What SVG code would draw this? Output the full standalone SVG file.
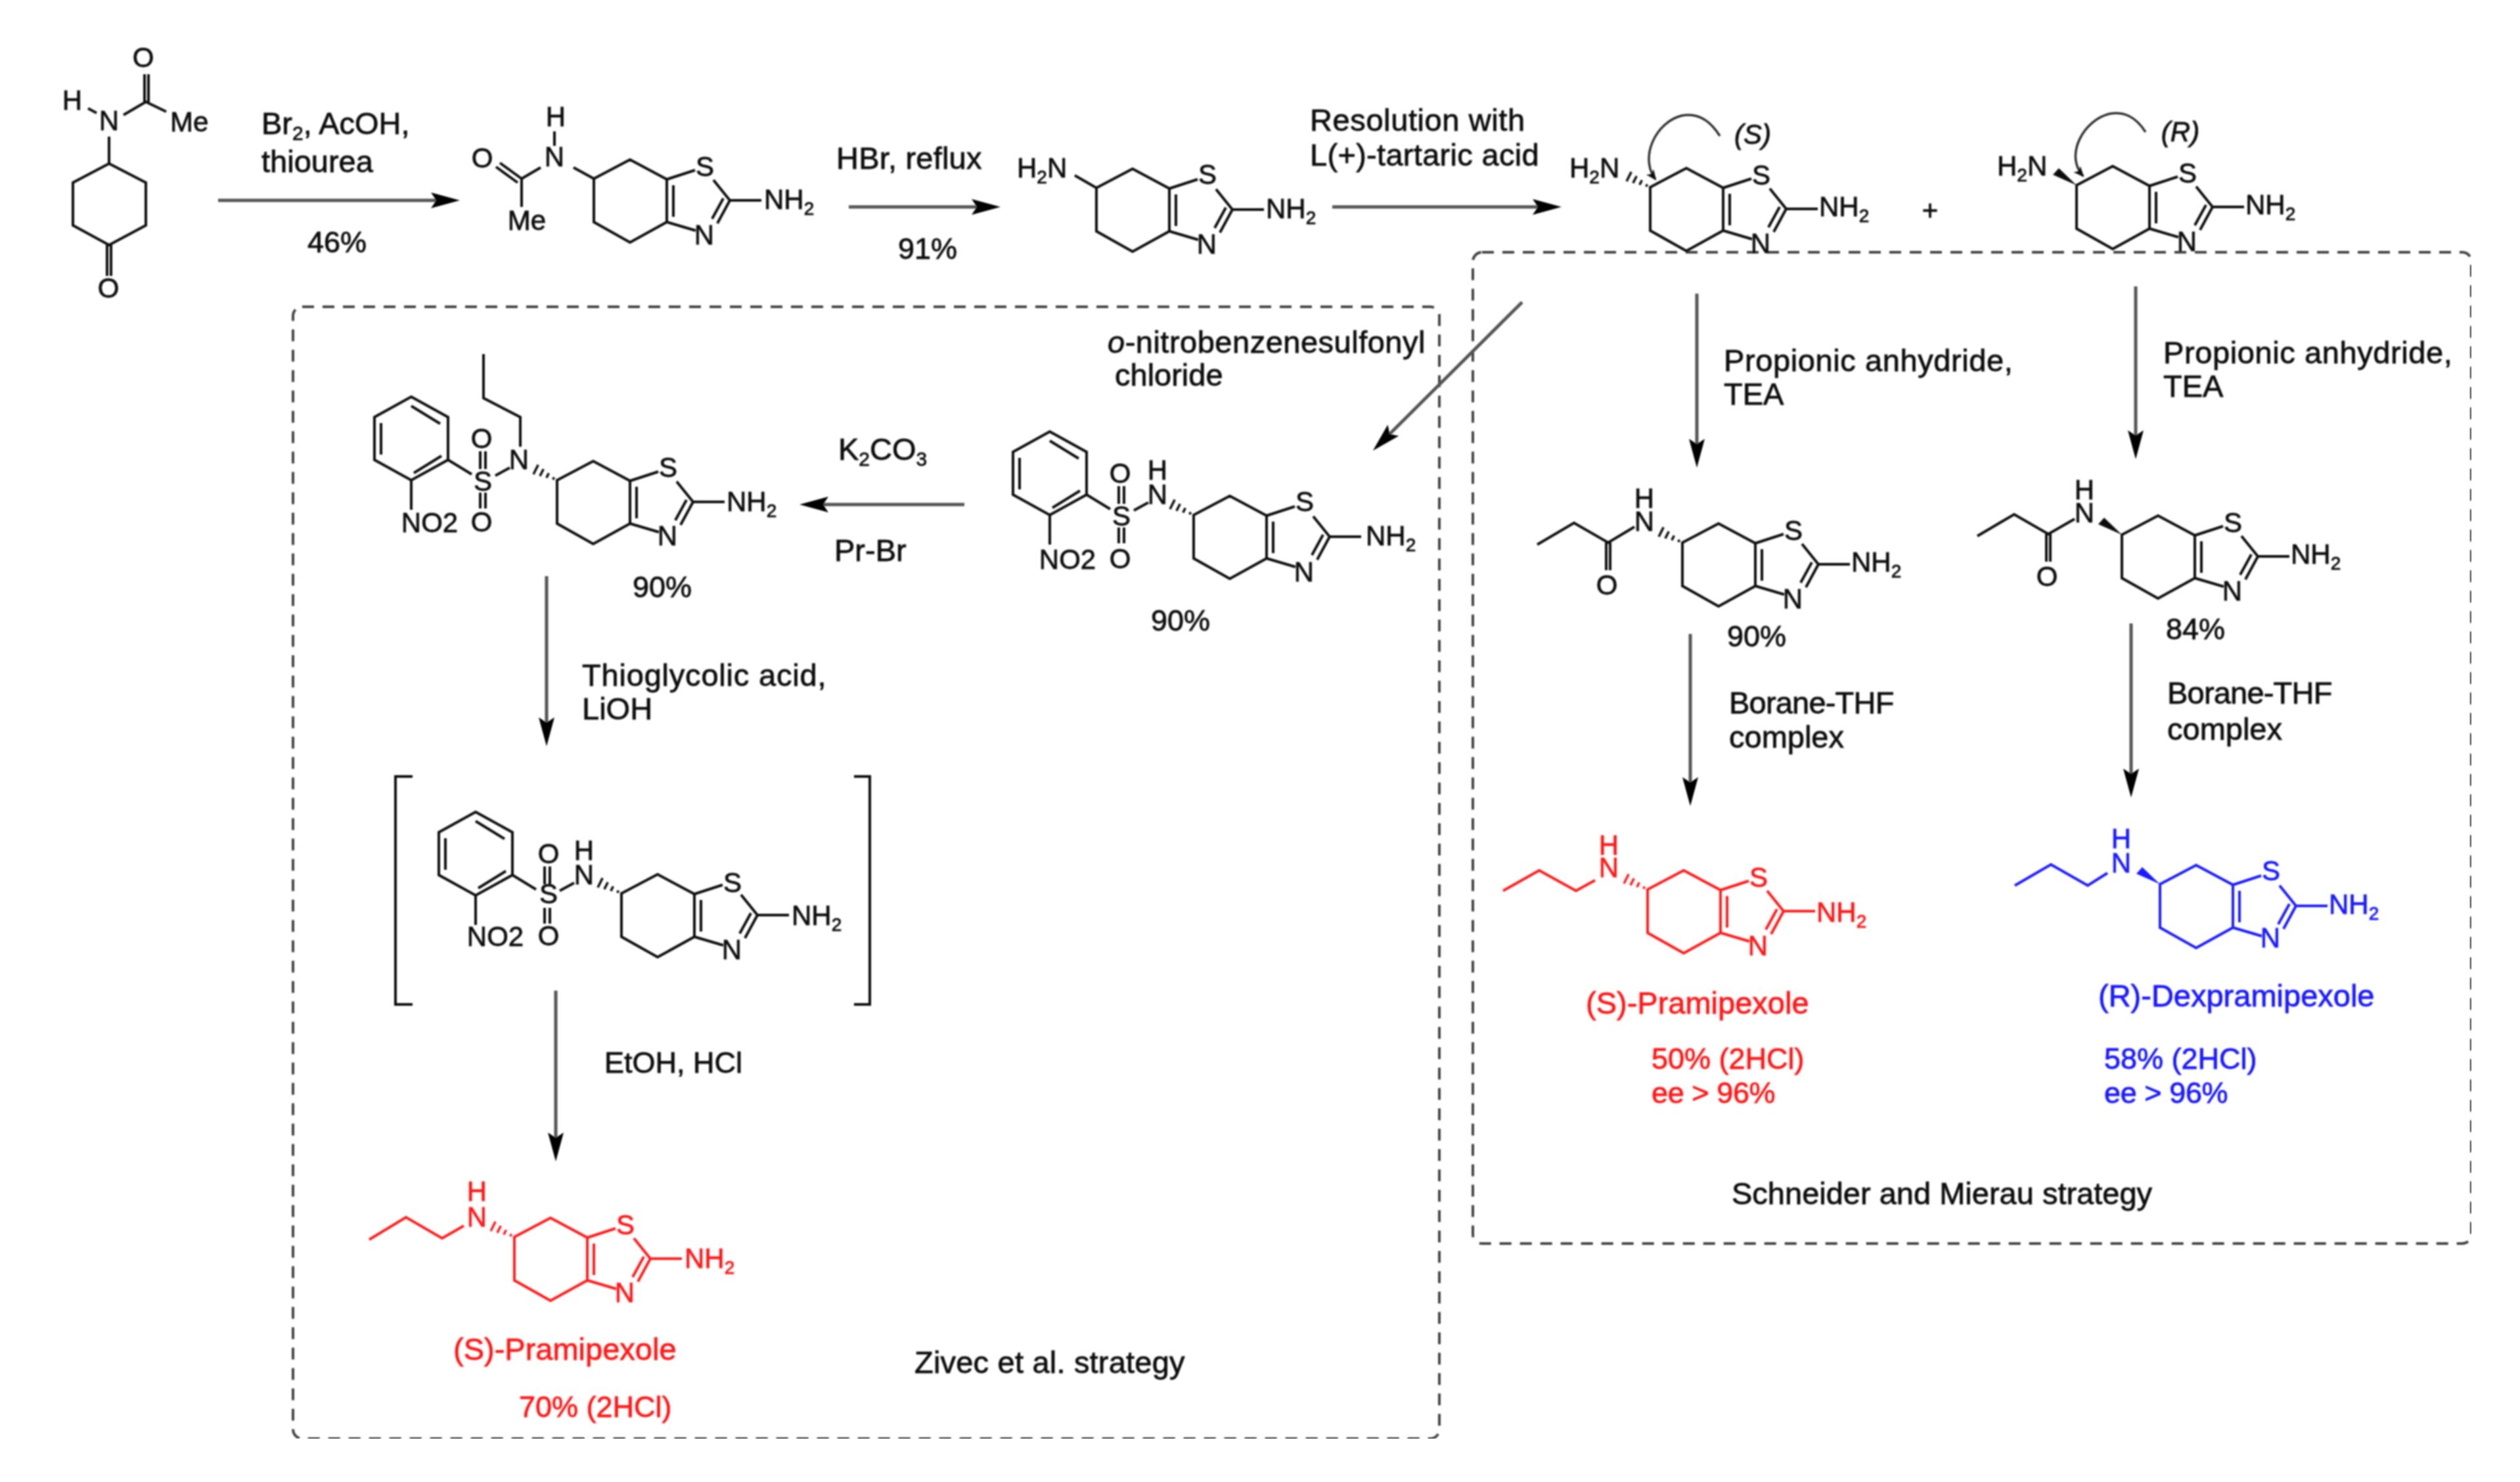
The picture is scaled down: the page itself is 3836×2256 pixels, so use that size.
<svg xmlns="http://www.w3.org/2000/svg" xmlns:xlink="http://www.w3.org/1999/xlink" width="3836" height="2256" viewBox="0 0 3836 2256">
<style>
text{font-family:"Liberation Sans",Arial,sans-serif;fill:currentColor;stroke:currentColor;stroke-width:.8}
.l{font-size:47px}
.s{font-size:45px}
.m{font-size:42px;text-anchor:middle}
.n{font-size:42px}
.c{text-anchor:middle}
.b{fill:none;stroke:currentColor;stroke-width:4;stroke-linejoin:miter}
.w{fill:currentColor;stroke:none}
.k{color:#111}
.r{color:#ff1a1a}
.v{color:#1a1aff}
.a{fill:none;stroke:#555;stroke-width:5;marker-end:url(#head)}
.box{fill:none;stroke:#444;stroke-width:4;stroke-dasharray:18 13}
.cur{fill:none;stroke:#333;stroke-width:3.5;marker-end:url(#small)}
</style>
<defs>
<filter id="soft" x="0" y="0" width="100%" height="100%" filterUnits="objectBoundingBox"><feGaussianBlur stdDeviation="0.9"/></filter>
<marker id="head" markerUnits="userSpaceOnUse" markerWidth="46" markerHeight="26" refX="24" refY="12" orient="auto" viewBox="0 0 46 26"><path d="M0 0L44 12L0 24L8 12Z" fill="#000"/></marker>
<marker id="small" markerUnits="userSpaceOnUse" markerWidth="20" markerHeight="16" refX="14" refY="7" orient="auto" viewBox="0 0 20 16"><path d="M0 0L16 7L0 14L4 7Z" fill="#111"/></marker>
<path id="core" d="M0 0L55 -29L111 1L111 66L55 97L0 66ZM121 10V58M111 1L154 -13M182 2L207 33M207 33L188 68M197 30L180 61M111 66L155 79M207 33H255"/>
<path id="hash" d="M-6.3 -.9L-4.5 -4.5M-16.2 -3.6L-12.6 -10.8M-26.1 -6.4L-20.7 -17M-36 -9L-28.8 -23.4" fill="none" stroke="currentColor" stroke-width="3.5"/>
<path id="wedge" d="M0 0L-36 -16L-27 -26Z"/>
<path id="nosyl" d="M0 0L56 31V96L0 127L-56 96V31ZM0 14L44 41M-46 40V88M4 116L46 90M0 127V172M56 96L92 118M105 83V110M113 83V110M105 146V170M113 146V170M128 120L150 108"/>
</defs>
<rect width="3836" height="2256" fill="#fff"/>
<g filter="url(#soft)">
<g id="frames">
<rect class="box" x="446" y="467" width="1745" height="1723" rx="14"/>
<rect class="box" x="2242" y="384" width="1520" height="1509" rx="14"/>
</g>
<g id="connectors">
<path class="a" d="M332 305H680"/>
<path class="a" d="M1292 315H1503"/>
<path class="a" d="M2028 315H2357"/>
<path class="a" d="M2317 460L2104 672"/>
<path class="a" d="M2583 447V692"/>
<path class="a" d="M3251 436V679"/>
<path class="a" d="M1468 768H1237"/>
<path class="a" d="M832 877V1116"/>
<path class="a" d="M846 1508V1748"/>
<path class="a" d="M2573 965V1207"/>
<path class="a" d="M3244 949V1194"/>
<path class="cur" d="M2618 207C2600 178 2580 172 2560 176C2520 186 2495 240 2520 273"/>
<path class="cur" d="M3266 201C3250 176 3232 170 3212 173C3172 182 3142 236 3171 268"/>
</g>
<g id="c1" class="k">
<path class="b" d="M166 249L222 278V343L166 373L111 343V278ZM166 208V249M163 373V420M169 373V420M220 113V155M226 113V155M134 165L147 172M188 175L222 155L253 170"/>
<text class="m" x="166" y="198">N</text><text class="m" x="110" y="167">H</text><text class="m" x="218" y="102">O</text><text class="n" x="259" y="200">Me</text><text class="m" x="165" y="453">O</text>
</g>
<g id="c2" class="k">
<use href="#core" class="b" transform="translate(904 272)"/>
<path class="b" d="M761 248L794 272M755 254L788 278M794 272V315M794 272L823 255M873 255L904 272M844 200V222"/>
<text class="m" x="844" y="253">N</text><text class="m" x="846" y="192">H</text><text class="m" x="734" y="255">O</text><text class="m" x="802" y="350">Me</text>
<text class="m" x="1073" y="268">S</text><text class="m" x="1072" y="372">N</text>
<text class="n" x="1163" y="318">NH<tspan dy="9" font-size="28">2</tspan></text>
</g>
<g id="c3" class="k">
<use href="#core" class="b" transform="translate(1669 286)"/>
<path class="b" d="M1636 267L1669 286"/>
<text class="n" x="1548" y="270">H<tspan dy="9" font-size="28">2</tspan><tspan dy="-9">N</tspan></text>
<text class="m" x="1838" y="280">S</text><text class="m" x="1837" y="386">N</text>
<text class="n" x="1927" y="332">NH<tspan dy="9" font-size="28">2</tspan></text>
</g>
<g id="c4s" class="k">
<use href="#core" class="b" transform="translate(2512 285)"/>
<use href="#hash" transform="translate(2512 285)"/>
<text class="n" x="2389" y="270">H<tspan dy="9" font-size="28">2</tspan><tspan dy="-9">N</tspan></text>
<text class="m" x="2681" y="281">S</text><text class="m" x="2680" y="385">N</text>
<text class="n" x="2769" y="329">NH<tspan dy="9" font-size="28">2</tspan></text>
<text class="m" x="2668" y="219" font-style="italic">(S)</text>
</g>
<g id="plus" class="k"><text class="m" x="2938" y="335">+</text></g>
<g id="c4r" class="k">
<use href="#core" class="b" transform="translate(3161 282)"/>
<use href="#wedge" class="w" transform="translate(3161 282)"/>
<text class="n" x="3040" y="267">H<tspan dy="9" font-size="28">2</tspan><tspan dy="-9">N</tspan></text>
<text class="m" x="3330" y="278">S</text><text class="m" x="3329" y="382">N</text>
<text class="n" x="3418" y="326">NH<tspan dy="9" font-size="28">2</tspan></text>
<text class="m" x="3319" y="215" font-style="italic">(R)</text>
</g>
<g id="c5s" class="k">
<use href="#core" class="b" transform="translate(2561 826)"/>
<use href="#hash" transform="translate(2561 826)"/>
<path class="b" d="M2340 829L2396 796L2448 826L2488 802M2445 826V868M2451 826V868"/>
<text class="m" x="2503" y="773">H<tspan x="2503" dy="35">N</tspan></text><text class="m" x="2446" y="905">O</text>
<text class="m" x="2730" y="822">S</text><text class="m" x="2729" y="926">N</text>
<text class="n" x="2818" y="870">NH<tspan dy="9" font-size="28">2</tspan></text>
</g>
<g id="c5r" class="k">
<use href="#core" class="b" transform="translate(3230 814)"/>
<use href="#wedge" class="w" transform="translate(3230 814)"/>
<path class="b" d="M3010 816L3066 783L3118 813L3158 790M3115 813V855M3121 813V855"/>
<text class="m" x="3173" y="760">H<tspan x="3173" dy="35">N</tspan></text><text class="m" x="3116" y="892">O</text>
<text class="m" x="3399" y="810">S</text><text class="m" x="3398" y="914">N</text>
<text class="n" x="3487" y="858">NH<tspan dy="9" font-size="28">2</tspan></text>
</g>
<g id="pram-right" class="r">
<use href="#core" class="b" transform="translate(2508 1354)"/>
<use href="#hash" transform="translate(2508 1354)"/>
<path class="b" d="M2288 1356L2343 1325L2399 1356L2428 1340"/>
<text class="m" x="2449" y="1301">H<tspan x="2449" dy="34">N</tspan></text>
<text class="m" x="2677" y="1350">S</text><text class="m" x="2676" y="1454">N</text>
<text class="n" x="2765" y="1403">NH<tspan dy="9" font-size="28">2</tspan></text>
<text class="l" x="2414" y="1543">(S)-Pramipexole</text>
<text class="s" x="2514" y="1627">50% (2HCl)</text>
<text class="s" x="2514" y="1679" letter-spacing="-.4">ee &gt; 96%</text>
</g>
<g id="dex" class="v">
<use href="#core" class="b" transform="translate(3288 1346)"/>
<use href="#wedge" class="w" transform="translate(3288 1346)"/>
<path class="b" d="M3067 1348L3122 1316L3178 1348L3208 1329"/>
<text class="m" x="3229" y="1291">H<tspan x="3229" dy="37">N</tspan></text>
<text class="m" x="3457" y="1340">S</text><text class="m" x="3456" y="1442">N</text>
<text class="n" x="3545" y="1391">NH<tspan dy="9" font-size="28">2</tspan></text>
<text class="l" x="3194" y="1532">(R)-Dexpramipexole</text>
<text class="s" x="3203" y="1627">58% (2HCl)</text>
<text class="s" x="3203" y="1679" letter-spacing="-.4">ee &gt; 96%</text>
</g>
<g id="c6" class="k">
<use href="#nosyl" class="b" transform="translate(1598 657)"/>
<use href="#core" class="b" transform="translate(1817 784)"/>
<use href="#hash" transform="translate(1817 784)"/>
<text class="m" x="1625" y="866">NO2</text><text class="m" x="1707" y="800">S</text><text class="m" x="1705" y="735">O</text><text class="m" x="1705" y="865">O</text>
<text class="m" x="1762" y="730">H<tspan x="1762" dy="37">N</tspan></text>
<text class="m" x="1986" y="778">S</text><text class="m" x="1985" y="885">N</text>
<text class="n" x="2079" y="830">NH<tspan dy="9" font-size="28">2</tspan></text>
<text class="s c" x="1797" y="960">90%</text>
</g>
<g id="c7" class="k">
<use href="#nosyl" class="b" transform="translate(626 604)"/>
<use href="#core" class="b" transform="translate(848 731)"/>
<use href="#hash" transform="translate(848 731)"/>
<path class="b" d="M736 539V606L792 635V680"/>
<text class="m" x="654" y="810">NO2</text><text class="m" x="735" y="747">S</text><text class="m" x="733" y="682">O</text><text class="m" x="733" y="809">O</text>
<text class="m" x="790" y="714">N</text>
<text class="m" x="1017" y="726">S</text><text class="m" x="1016" y="830">N</text>
<text class="n" x="1106" y="778">NH<tspan dy="9" font-size="28">2</tspan></text>
<text class="s c" x="1008" y="909">90%</text>
</g>
<g id="c8" class="k">
<path class="b" d="M628 1182H602V1529H628M1300 1182H1324V1529H1300" stroke-width="5"/>
<use href="#nosyl" class="b" transform="translate(724 1236)"/>
<use href="#core" class="b" transform="translate(946 1360)"/>
<use href="#hash" transform="translate(946 1360)"/>
<text class="m" x="754" y="1440">NO2</text><text class="m" x="835" y="1375">S</text><text class="m" x="835" y="1314">O</text><text class="m" x="835" y="1439">O</text>
<text class="m" x="889" y="1309">H<tspan x="889" dy="37">N</tspan></text>
<text class="m" x="1115" y="1358">S</text><text class="m" x="1114" y="1460">N</text>
<text class="n" x="1205" y="1408">NH<tspan dy="9" font-size="28">2</tspan></text>
</g>
<g id="pram-left" class="r">
<use href="#core" class="b" transform="translate(783 1883)"/>
<use href="#hash" transform="translate(783 1883)"/>
<path class="b" d="M562 1887L618 1853L673 1885L706 1866"/>
<text class="m" x="726" y="1828">H<tspan x="726" dy="39">N</tspan></text>
<text class="m" x="952" y="1879">S</text><text class="m" x="951" y="1982">N</text>
<text class="n" x="1042" y="1930">NH<tspan dy="9" font-size="28">2</tspan></text>
<text class="l" x="690" y="2070">(S)-Pramipexole</text>
<text class="s" x="790" y="2157">70% (2HCl)</text>
</g>
<g id="labels" class="k">
<text class="l" x="398" y="204">Br<tspan dy="9" font-size="30">2</tspan><tspan dy="-9">, AcOH,</tspan></text>
<text class="l" x="398" y="262">thiourea</text>
<text class="s c" x="513" y="384">46%</text>
<text class="l" x="1273" y="257" letter-spacing=".2">HBr, reflux</text>
<text class="s c" x="1412" y="394">91%</text>
<text class="l" x="1994" y="199" letter-spacing=".6">Resolution with</text>
<text class="l" x="1994" y="252" letter-spacing=".3">L(+)-tartaric acid</text>
<text class="l" x="2624" y="565" letter-spacing=".6">Propionic anhydride,</text>
<text class="l" x="2624" y="616">TEA</text>
<text class="l" x="3293" y="553" letter-spacing=".6">Propionic anhydride,</text>
<text class="l" x="3293" y="604">TEA</text>
<text class="s c" x="2674" y="984">90%</text>
<text class="s c" x="3342" y="973">84%</text>
<text class="l" x="2632" y="1086" letter-spacing="-.8">Borane-THF</text>
<text class="l" x="2632" y="1138">complex</text>
<text class="l" x="3299" y="1071" letter-spacing="-.8">Borane-THF</text>
<text class="l" x="3299" y="1126">complex</text>
<text class="l" x="2636" y="1833">Schneider and Mierau strategy</text>
<text class="l" x="1686" y="537" letter-spacing=".5"><tspan font-style="italic">o</tspan>-nitrobenzenesulfonyl</text>
<text class="l" x="1697" y="587">chloride</text>
<text class="l" x="1276" y="700">K<tspan dy="9" font-size="30">2</tspan><tspan dy="-9">CO</tspan><tspan dy="9" font-size="30">3</tspan></text>
<text class="l" x="1270" y="854">Pr-Br</text>
<text class="l" x="886" y="1044" letter-spacing=".8">Thioglycolic acid,</text>
<text class="l" x="886" y="1095">LiOH</text>
<text class="s" x="920" y="1633">EtOH, HCl</text>
<text class="l" x="1392" y="2090" letter-spacing=".2">Zivec et al. strategy</text>
</g>
</g>
</svg>
